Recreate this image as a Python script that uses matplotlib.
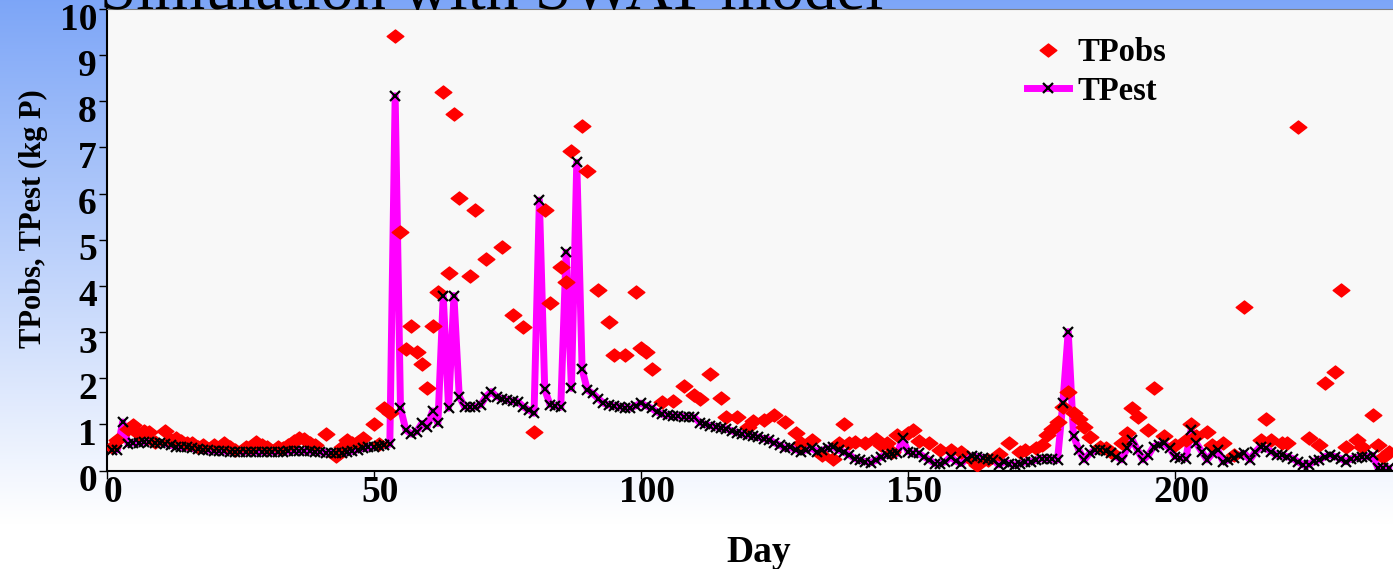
import numpy as np
import matplotlib
matplotlib.use('Agg')
import matplotlib.pyplot as plt
import matplotlib.transforms as mtransforms
from matplotlib.lines import Line2D
from matplotlib.path import Path

# simulated total phosphorus, one value per day
est_days = list(range(1, 241))
tp_est = [
    0.45, 0.45, 1.05, 0.58, 0.60, 0.60, 0.62, 0.62, 0.60, 0.60,
    0.58, 0.55, 0.52, 0.50, 0.50, 0.48, 0.46, 0.45, 0.44, 0.43,
    0.42, 0.42, 0.41, 0.41, 0.41, 0.40, 0.40, 0.40, 0.40, 0.40,
    0.40, 0.41, 0.41, 0.42, 0.43, 0.43, 0.42, 0.42, 0.41, 0.40,
    0.39, 0.38, 0.37, 0.38, 0.40, 0.42, 0.45, 0.48, 0.50, 0.52,
    0.54, 0.55, 0.57, 8.12, 1.35, 0.88, 0.79, 0.84, 1.02, 0.95,
    1.29, 1.02, 3.79, 1.35, 3.79, 1.60, 1.38, 1.38, 1.38, 1.42,
    1.60, 1.71, 1.60, 1.56, 1.53, 1.50, 1.49, 1.38, 1.31, 1.24,
    5.86, 1.76, 1.42, 1.40, 1.37, 4.73, 1.78, 6.68, 2.19, 1.74,
    1.67, 1.56, 1.46, 1.42, 1.40, 1.38, 1.36, 1.35, 1.40, 1.46,
    1.40, 1.35, 1.27, 1.22, 1.20, 1.18, 1.18, 1.17, 1.16, 1.15,
    1.04, 1.00, 0.97, 0.95, 0.92, 0.90, 0.86, 0.82, 0.79, 0.77,
    0.75, 0.72, 0.69, 0.67, 0.60, 0.55, 0.48, 0.50, 0.45, 0.41,
    0.45, 0.48, 0.41, 0.44, 0.48, 0.52, 0.44, 0.40, 0.34, 0.26,
    0.22, 0.19, 0.17, 0.22, 0.30, 0.34, 0.35, 0.37, 0.70, 0.41,
    0.37, 0.37, 0.30, 0.23, 0.15, 0.15, 0.19, 0.30, 0.20, 0.15,
    0.26, 0.31, 0.30, 0.28, 0.26, 0.23, 0.12, 0.19, 0.15, 0.12,
    0.15, 0.19, 0.19, 0.23, 0.26, 0.25, 0.24, 0.23, 1.47, 3.01,
    0.75, 0.44, 0.23, 0.37, 0.44, 0.44, 0.42, 0.38, 0.30, 0.23,
    0.48, 0.66, 0.44, 0.23, 0.33, 0.52, 0.56, 0.59, 0.48, 0.30,
    0.28, 0.26, 0.88, 0.59, 0.41, 0.23, 0.37, 0.44, 0.19, 0.23,
    0.28, 0.33, 0.37, 0.23, 0.40, 0.52, 0.48, 0.41, 0.33, 0.33,
    0.30, 0.26, 0.19, 0.12, 0.12, 0.20, 0.23, 0.30, 0.33, 0.30,
    0.26, 0.19, 0.26, 0.28, 0.30, 0.30, 0.33, 0.05, 0.05, 0.05,
]

# observed total phosphorus, sampled days only
obs_days = [
    1, 2, 4, 5, 6, 7, 8, 9, 11, 12, 13, 14, 15, 16, 17, 18, 20, 22, 23, 24,
    26, 27, 28, 29, 30, 32, 33, 34, 35, 36, 37, 38, 39, 41, 43, 44, 45, 46, 47, 48,
    50, 51, 52, 53, 54, 55, 56, 57, 58, 59, 60, 61, 62, 63, 64, 65, 66, 68, 69, 71,
    74, 76, 78, 80, 82, 83, 85, 86, 87, 89, 90, 92, 94, 95, 97, 99, 100, 101, 102, 104,
    106, 108, 110, 111, 113, 115, 116, 118, 120, 121, 123, 125, 127, 129, 130, 132, 134, 136, 137, 138,
    139, 140, 142, 144, 145, 146, 147, 148, 150, 151, 152, 154, 156, 158, 160, 162, 163, 165, 167, 169,
    171, 172, 174, 175, 176, 177, 178, 179, 180, 181, 182, 183, 184, 186, 187, 188, 190, 191, 192, 193,
    195, 196, 198, 200, 202, 203, 204, 206, 207, 209, 211, 213, 216, 217, 218, 220, 221, 223, 225, 227,
    228, 230, 231, 232, 234, 235, 237, 238, 239, 240,
]
tp_obs = [
    0.50, 0.66, 0.90, 0.99, 0.80, 0.85, 0.84, 0.62, 0.86, 0.66, 0.70, 0.64, 0.60, 0.59, 0.52, 0.55, 0.55, 0.60, 0.52, 0.45,
    0.52, 0.50, 0.62, 0.55, 0.50, 0.52, 0.48, 0.55, 0.65, 0.70, 0.68, 0.60, 0.55, 0.79, 0.31, 0.50, 0.66, 0.60, 0.62, 0.70,
    1.00, 0.58, 1.35, 1.24, 9.41, 5.16, 2.63, 3.13, 2.57, 2.30, 1.78, 3.13, 3.86, 8.20, 4.29, 7.72, 5.91, 4.22, 5.64, 4.58,
    4.85, 3.37, 3.10, 0.83, 5.64, 3.62, 4.40, 4.08, 6.93, 7.46, 6.49, 3.91, 3.21, 2.50, 2.50, 3.87, 2.65, 2.57, 2.20, 1.48,
    1.51, 1.83, 1.64, 1.56, 2.09, 1.58, 1.17, 1.17, 0.95, 1.07, 1.10, 1.20, 1.05, 0.82, 0.60, 0.66, 0.34, 0.26, 0.60, 1.00,
    0.60, 0.62, 0.60, 0.68, 0.56, 0.59, 0.41, 0.77, 0.81, 0.88, 0.63, 0.60, 0.45, 0.45, 0.41, 0.23, 0.12, 0.23, 0.36, 0.59,
    0.41, 0.45, 0.48, 0.56, 0.77, 0.90, 1.06, 1.38, 1.71, 1.24, 1.12, 0.95, 0.72, 0.52, 0.48, 0.41, 0.60, 0.81, 1.35, 1.17,
    0.88, 1.78, 0.74, 0.55, 0.66, 1.00, 0.74, 0.84, 0.55, 0.59, 0.33, 3.54, 0.66, 1.12, 0.66, 0.60, 0.59, 7.44, 0.71, 0.56,
    1.89, 2.13, 3.91, 0.52, 0.66, 0.52, 1.20, 0.55, 0.30, 0.41,
]

y_ticks = list(range(0, 11))
x_ticks = [0, 50, 100, 150, 200]

W, H = 1393, 569
plt.rcParams['font.family'] = ['Liberation Serif', 'DejaVu Serif']
plt.rcParams['font.weight'] = 'bold'

fig = plt.figure(figsize=(W / 100, H / 100), dpi=100)

# slide background: blue at the top fading to white
bg = fig.add_axes([0, 0, 1, 1], zorder=-10)
t = np.linspace(0, 1, 300)[:, None]
top = np.array([0.49, 0.65, 0.97])
rgb = top + (np.array([1.0, 1.0, 1.0]) - top) * np.clip(t / 0.92, 0, 1)[..., None]
rgb = np.repeat(rgb, 2, axis=1)
bg.imshow(rgb, aspect='auto', extent=[0, 1, 0, 1], origin='upper')
bg.axis('off')

fig.text(100 / W, 1 - 9 / H, 'Simulation with SWAT model', fontsize=47,
         fontweight='normal', va='baseline', ha='left')

ax = fig.add_axes([106.7 / W, (H - 470.5) / H, (W - 106.7) / W, 461.5 / H])
ax.set_facecolor('#f8f8f8')

# diamond a bit wider than tall
diamond = Path([(-1, 0), (0, 0.78), (1, 0), (0, -0.78), (-1, 0)],
               [Path.MOVETO, Path.LINETO, Path.LINETO, Path.LINETO, Path.CLOSEPOLY])

ax.plot(est_days, tp_est, color='#ff00ff', lw=5, zorder=2, solid_joinstyle='round')
ax.plot(obs_days, tp_obs, ls='none', marker=diamond, ms=12, color='#ff0000',
        mec='#ff0000', zorder=3)
ax.plot(est_days, tp_est, ls='none', marker='x', ms=7, mew=1.6, color='black', zorder=4)

ax.set_xlim(0, 240.8)
ax.set_ylim(0, 10)
ax.set_xticks(x_ticks)
ax.set_yticks(y_ticks)
ax.tick_params(axis='both', direction='out', length=6, width=1, labelsize=27, colors='black')
ax.tick_params(axis='x', pad=-3)
ax.tick_params(axis='y', pad=1)
# tick labels sit a little below / right of their ticks
yshift = mtransforms.ScaledTranslation(0, -7 / 100, fig.dpi_scale_trans)
xshift = mtransforms.ScaledTranslation(6 / 100, 0, fig.dpi_scale_trans)
for lbl in ax.get_yticklabels():
    lbl.set_transform(lbl.get_transform() + yshift)
for lbl in ax.get_xticklabels():
    lbl.set_transform(lbl.get_transform() + xshift)
for lbl in ax.get_xticklabels() + ax.get_yticklabels():
    lbl.set_fontweight('bold')

ax.spines['right'].set_visible(False)
ax.spines['top'].set_color('#808080')
ax.spines['left'].set_linewidth(1.5)
ax.spines['bottom'].set_linewidth(1.5)

ax.set_xlabel('Day', fontsize=27, fontweight='bold')
ax.set_ylabel('TPobs, TPest (kg P)', fontsize=22, fontweight='bold')
ax.xaxis.set_label_coords(0.507, -0.14)
ax.yaxis.set_label_coords(-0.0456, 0.545)

handles = [
    Line2D([], [], ls='none', marker=diamond, ms=12, color='#ff0000'),
    Line2D([], [], color='#ff00ff', lw=5, marker='x', ms=7, mew=1.6, mec='black'),
]
leg = ax.legend(handles, ['TPobs', 'TPest'], loc='upper left',
                bbox_to_anchor=(1027 / W, 1 - 37 / H), bbox_transform=fig.transFigure,
                frameon=False, fontsize=23.5, handlelength=1.3, handletextpad=0.25,
                labelspacing=0.24, borderpad=0, borderaxespad=0)
for txt in leg.get_texts():
    txt.set_fontweight('bold')

fig.savefig('out.png', dpi=100)
